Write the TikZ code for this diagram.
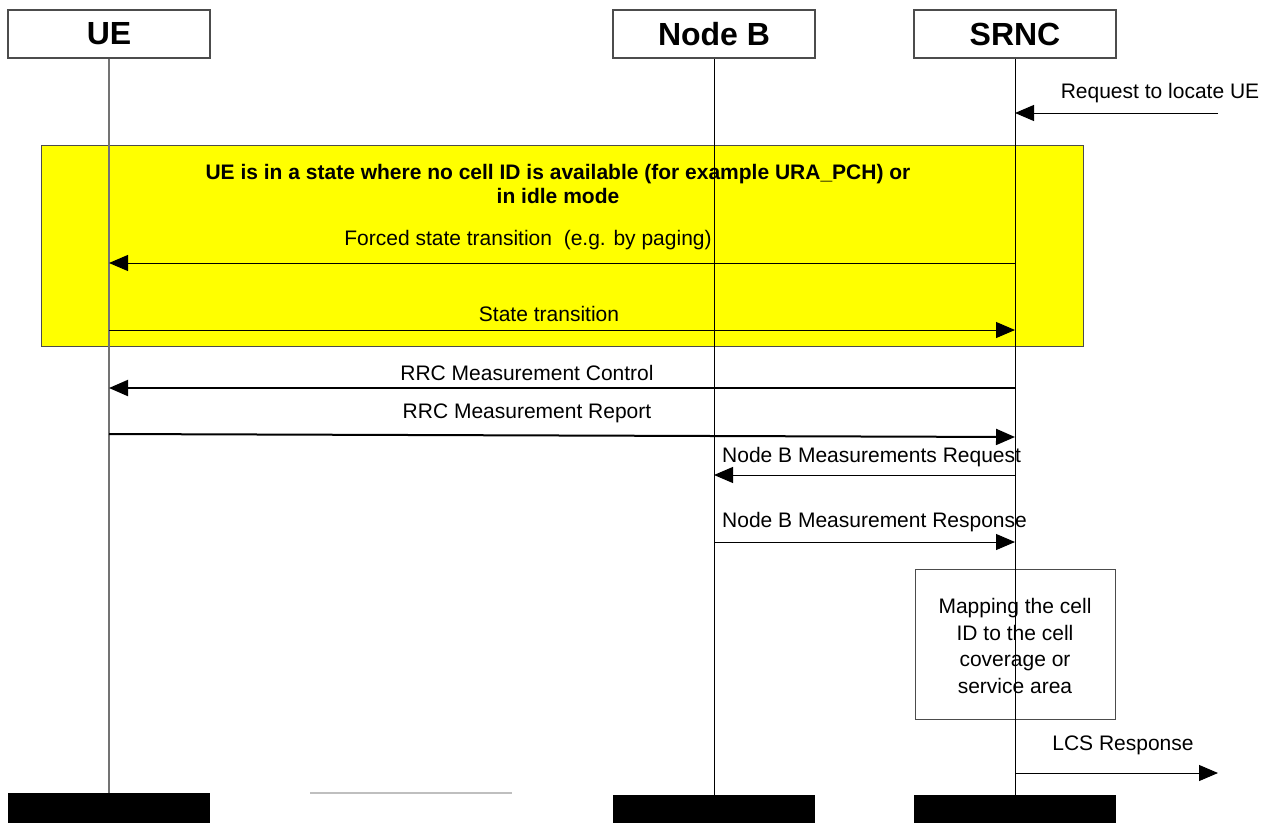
\documentclass[tikz,border=0pt]{standalone}
\usepackage{fontspec}
\setmainfont{Liberation Sans}
\usetikzlibrary{arrows.meta,positioning}
\definecolor{condyellow}{RGB}{255,255,0}
\tikzset{
    entity/.style={rectangle, draw=black!70, line width=1.2pt,
        minimum width=202pt, minimum height=48pt, inner sep=0pt,
        font=\fontsize{32}{36}\selectfont\bfseries},
    endbar/.style={rectangle, fill=black, minimum width=202pt,
        minimum height=28pt, inner sep=0pt},
    life/.style={line width=1pt},
    msg/.style={-{Triangle[length=19pt,width=16pt]}, line width=1pt},
    bmsg/.style={msg, line width=2pt},
    lbl/.style={font=\fontsize{21}{25}\selectfont, inner sep=0pt},
    cond/.style={rectangle, draw=black!70, fill=condyellow, line width=1pt,
        minimum width=1042pt, minimum height=201pt, inner sep=0pt},
    procbox/.style={rectangle, draw=black!70, line width=1pt,
        minimum width=200pt, minimum height=150pt, inner sep=0pt}
}

\begin{document}
\begin{tikzpicture}[x=1pt, y=-1pt]
    \useasboundingbox (0,0) rectangle (1261,823);
    % entities
    \node[entity] (ue) at (109,34) {UE};
    \node[entity] (nodeb) at (714,34) {Node B};
    \node[entity] (srnc) at (1015,34) {SRNC};
    \node[endbar, minimum height=30pt] (ueend) at (109,808) {};
    \node[endbar] (nodebend) at (714,809) {};
    \node[endbar] (srncend) at (1015,809) {};
    \draw[gray!50, line width=1.5pt] (310,793) -- (512,793);
    % condition box
    \node[cond] (state) at (562,245.5) {};
    \node[lbl, font=\fontsize{21}{24}\selectfont\bfseries, align=center]
        (statetxt) at (558,184) {UE is in a state where no cell ID is available (for example URA\_PCH) or\\in idle mode};
    \node[procbox] (mapping) at (1015,644) {};
    \node[lbl, align=center, font=\fontsize{21}{26.5}\selectfont]
        (mappingtxt) at (1015,646) {Mapping the cell\\ID to the cell\\coverage or\\service area};
    % lifelines
    \draw[life, black!55, line width=1.5pt] (ue.south) -- (ueend.north);
    \draw[life] (nodeb.south) -- (nodebend.north);
    \draw[life] (srnc.south) -- (srncend.north);
    % messages
    \coordinate (lcsreq) at (1218,113);
    \coordinate (lcsresp) at (1218,773);
    \draw[msg] (lcsreq) -- (srnc |- lcsreq);
    \node[lbl] (lreq) at (1160,93) {Request to locate UE};
    \draw[msg] (srnc |- 0,263) -- (ue |- 0,263);
    \node[lbl] (lforced) at (528,240) {Forced state transition~ (e.g. by paging)};
    \draw[msg] (ue |- 0,330) -- (srnc |- 0,330);
    \node[lbl] (ltrans) at (549,314) {State transition};
    \draw[bmsg] (srnc |- 0,388) -- (ue |- 0,388);
    \node[lbl] (lctrl) at (527,373) {RRC Measurement Control};
    \draw[bmsg] (ue |- 0,434) -- (srnc |- 0,437);
    \node[lbl] (lrep) at (527,413) {RRC Measurement Report};
    \draw[msg] (srnc |- 0,475) -- (nodeb |- 0,475);
    \node[lbl, anchor=west] (lnbreq) at (722,457) {Node B Measurements Request};
    \draw[msg] (nodeb |- 0,542) -- (srnc |- 0,542);
    \node[lbl, anchor=west] (lnbresp) at (722,522) {Node B Measurement Response};
    \draw[msg] (srnc |- lcsresp) -- (lcsresp);
    \node[lbl] (llcs) at (1123,745) {LCS Response};
\end{tikzpicture}
\end{document}
